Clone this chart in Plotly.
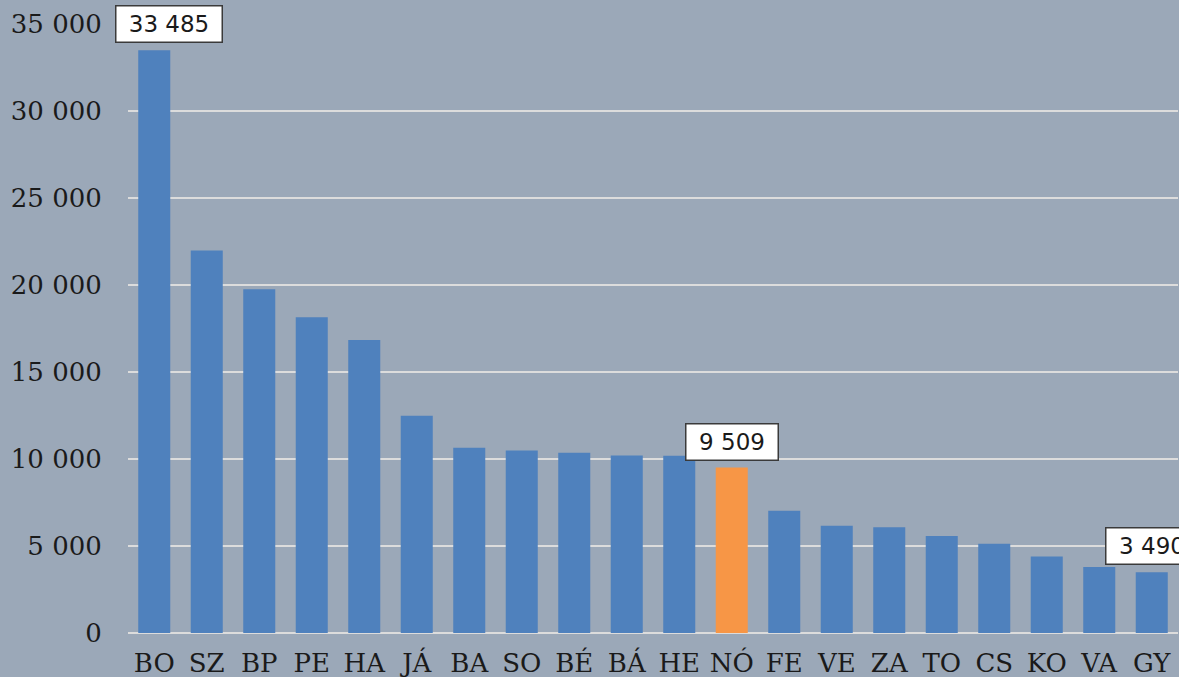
import plotly.graph_objects as go

categories = ["BO", "SZ", "BP", "PE", "HA", "JÁ", "BA", "SO", "BÉ", "BÁ",
              "HE", "NÓ", "FE", "VE", "ZA", "TO", "CS", "KO", "VA", "GY"]
values = [33485, 21980, 19750, 18140, 16840, 12480, 10640, 10490, 10360, 10200,
          10190, 9509, 7030, 6165, 6080, 5570, 5130, 4400, 3790, 3490]
highlight = "NÓ"
labelled = ["BO", "NÓ", "GY"]
y_ticks = [0, 5000, 10000, 15000, 20000, 25000, 30000, 35000]

BG = "#9BA8B8"
BLUE = "#4F81BD"
ORANGE = "#F79646"
GRID = "#DCDCDC"
TEXT = "#1A1A1A"

# label box nudges (styling only): first label moved right to clear the axis labels
label_xshift = {"BO": 15}

colors = [ORANGE if c == highlight else BLUE for c in categories]

fig = go.Figure(go.Bar(
    x=categories, y=values,
    marker=dict(color=colors, line=dict(width=0)),
    hoverinfo="x+y",
))

annotations = []
for c, v in zip(categories, values):
    if c in labelled:
        txt = f"{v:,}".replace(",", " ")
        w = 99 if len(txt) > 5 else 85
        annotations.append(dict(
            x=c, y=v, text=txt, showarrow=False,
            xanchor="center", yanchor="bottom", yshift=7,
            xshift=label_xshift.get(c, 0),
            font=dict(family="DejaVu Sans", size=23, color=TEXT),
            bgcolor="white", bordercolor="#3A3A3A", borderwidth=1.5,
            borderpad=3, width=w, height=29, align="center", valign="middle",
        ))

fig.update_layout(
    width=1179, height=677,
    margin=dict(l=128, r=1, t=24, b=44, autoexpand=False),
    paper_bgcolor=BG, plot_bgcolor=BG,
    bargap=0.39,
    showlegend=False,
    separators=", ",
    annotations=annotations,
    font=dict(family="DejaVu Serif", size=25, color=TEXT),
    xaxis=dict(
        range=[-0.5, len(categories) - 0.5], autorange=False,
        showgrid=False, showline=False,
        ticks="outside", ticklen=7, tickcolor="rgba(0,0,0,0)",
        tickfont=dict(family="DejaVu Serif", size=26, color=TEXT),
        automargin=False,
    ),
    yaxis=dict(
        range=[0, 35000], autorange=False, tickvals=y_ticks, tickformat=",d",
        showgrid=True, gridcolor=GRID, gridwidth=2,
        zeroline=True, zerolinecolor=GRID, zerolinewidth=2,
        showline=False,
        ticks="outside", ticklen=20, tickcolor="rgba(0,0,0,0)",
        tickfont=dict(family="DejaVu Serif", size=26, color=TEXT),
        automargin=False,
    ),
)

fig.write_html(
    "out.html",
    config={"displayModeBar": False},
    post_script="document.body.style.margin='0';document.body.style.overflow='hidden';",
)
